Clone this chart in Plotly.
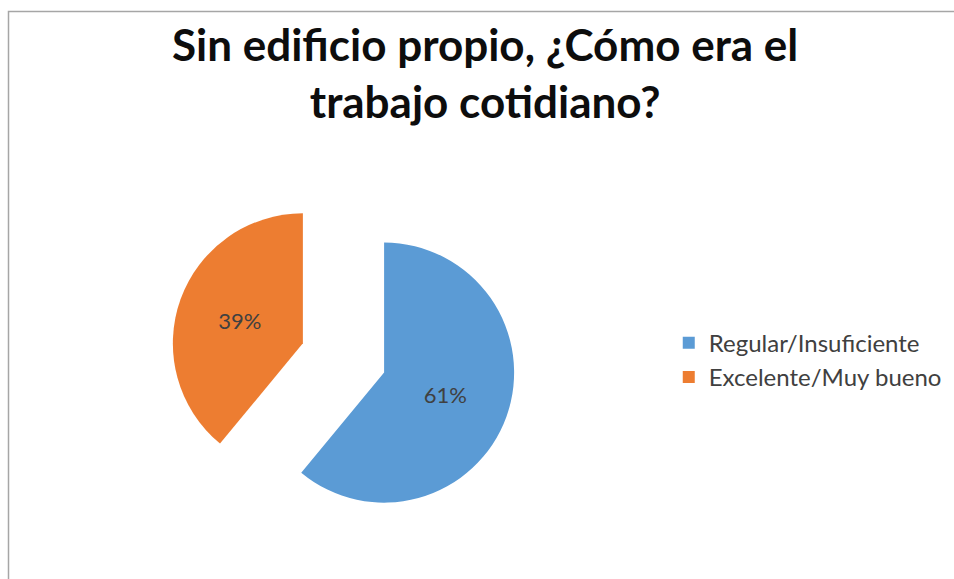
import plotly.graph_objects as go

# Survey answers and their shares
categories = ["Regular/Insuficiente", "Excelente/Muy bueno"]
shares = [61, 39]
slice_colors = ["#5B9BD5", "#ED7D31"]

title_lines = ["Sin edificio propio, ¿Cómo era el", "trabajo cotidiano?"]

fig = go.Figure(
    go.Pie(
        labels=categories,
        values=shares,
        sort=False,
        direction="clockwise",
        rotation=0,
        pull=[0.332, 0.332],
        marker=dict(colors=slice_colors, line=dict(color="#ffffff", width=0)),
        textinfo="percent",
        textposition="inside",
        insidetextorientation="horizontal",
        textfont=dict(family="Lato, sans-serif", size=22, color="#404040"),
        domain=dict(x=[0.1785, 0.5416], y=[0.0826, 0.6808]),
        hoverinfo="label+percent",
    )
)

fig.update_layout(
    width=954,
    height=579,
    margin=dict(l=0, r=0, t=0, b=0),
    paper_bgcolor="#ffffff",
    plot_bgcolor="#ffffff",
    showlegend=True,
    legend=dict(
        x=0.701,
        y=0.378,
        xanchor="left",
        yanchor="middle",
        font=dict(family="Lato, sans-serif", size=24, color="#404040"),
        bgcolor="rgba(0,0,0,0)",
        itemwidth=30,
    ),
    annotations=[
        dict(
            text="<br>".join(title_lines),
            x=0.508,
            y=0.973,
            xref="paper",
            yref="paper",
            xanchor="center",
            yanchor="top",
            showarrow=False,
            align="center",
            font=dict(family="Lato, sans-serif", size=44, color="#0d0d0d", weight="bold"),
        )
    ],
    shapes=[
        dict(
            type="rect",
            xref="paper",
            yref="paper",
            x0=8.5 / 954,
            x1=1.05,
            y0=-0.05,
            y1=1 - 11.5 / 579,
            line=dict(color="#a6a6a6", width=1.5),
            fillcolor="rgba(0,0,0,0)",
            layer="below",
        )
    ],
)

fig.write_html("out.html")
